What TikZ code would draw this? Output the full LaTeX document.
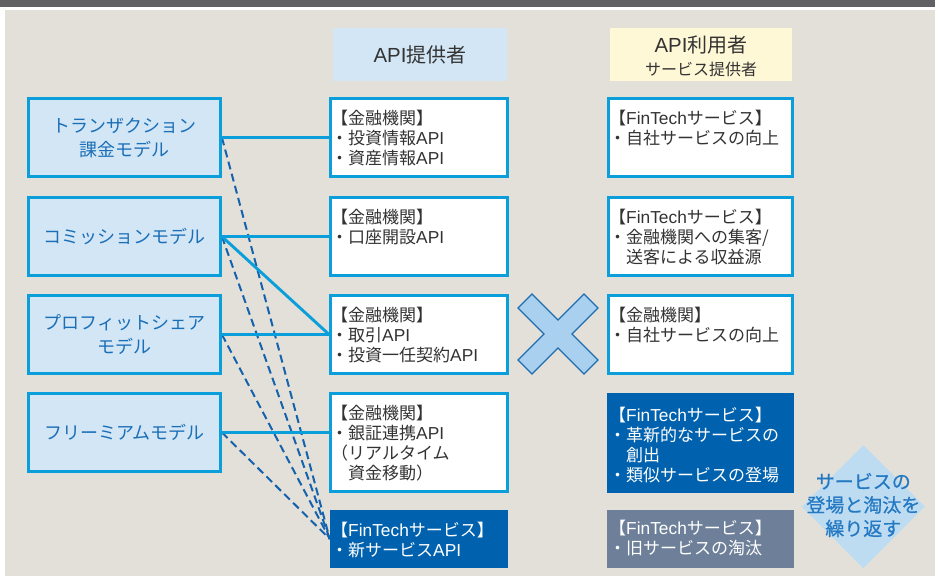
\documentclass[tikz,border=0pt]{standalone}
\usepackage{fontspec}
\setmainfont{Noto Sans CJK JP}
\newfontfamily\latf[Scale=1.02]{Liberation Sans}
\newfontfamily\boldish[FakeBold=0.6]{Noto Sans CJK JP}
\usetikzlibrary{shapes.geometric}
\definecolor{bg}{HTML}{E3E0D9}
\definecolor{topbar}{HTML}{616163}
\definecolor{cyanb}{HTML}{0A9FDA}
\definecolor{lightb}{HTML}{D2E6F6}
\definecolor{darkb}{HTML}{0062AE}
\definecolor{grayb}{HTML}{6E8099}
\definecolor{txtb}{HTML}{1B6FB7}
\definecolor{txtd}{HTML}{2479C2}
\definecolor{hdrA}{HTML}{D3E6F5}
\definecolor{hdrB}{HTML}{FEF8D6}
\definecolor{txtg}{HTML}{333333}
\definecolor{xfill}{HTML}{A9D0EE}
\definecolor{xline}{HTML}{1E6DB0}
\definecolor{dashcol}{HTML}{1462AC}
\definecolor{diam}{HTML}{BDDCF2}
\newcommand{\mystrut}{\rule{0pt}{16pt}}
\newcommand{\lat}[1]{{\latf #1}}
\begin{document}
\begin{tikzpicture}[x=1pt,y=-1pt,
  leftbox/.style={draw=cyanb, line width=2.8pt, fill=lightb, minimum width=192pt, minimum height=78pt, inner sep=0pt, align=center, text=txtb, font=\fontsize{18}{24}\selectfont},
  apibox/.style={draw=cyanb, line width=2.8pt, fill=white, minimum width=177pt, inner sep=0pt},
  svcbox/.style={draw=cyanb, line width=2.8pt, fill=white, minimum width=184pt, inner sep=0pt},
  solidbox/.style={inner sep=0pt},
  hdr/.style={inner sep=0pt, minimum height=53pt, align=center, text=txtg},
  tx/.style={anchor=north west, inner sep=0pt, align=left, font=\fontsize{17}{20}\selectfont, text=txtg},
  txw/.style={tx, text=white},
  solidc/.style={draw=cyanb, line width=2.9pt},
  dashc/.style={draw=dashcol, line width=2pt, dash pattern=on 8pt off 4.5pt}
]
\useasboundingbox (0,0) rectangle (935,576);
\fill[white] (0,0) rectangle (935,576);
\fill[topbar] (0,0) rectangle (935,7);
\fill[bg] (5,10) rectangle (935,576);

% headers
\node[hdr, fill=hdrA, minimum width=174pt, font=\fontsize{20}{24}\selectfont] (h1) at (420,54.5) {\lat{API}提供者};
\node[hdr, fill=hdrB, minimum width=182pt] (h2) at (701,54.5) {};
\node[inner sep=0pt, text=txtg, font=\fontsize{20}{24}\selectfont] (h2a) at (701,45) {\lat{API}利用者};
\node[inner sep=0pt, text=txtg, font=\fontsize{16}{20}\selectfont] (h2b) at (701,69) {サービス提供者};

% left boxes
\node[leftbox] (m1) at (124.5,137.5) {トランザクション\\課金モデル};
\node[leftbox] (m2) at (124.5,236.5) {コミッションモデル};
\node[leftbox] (m3) at (124.5,334.5) {プロフィットシェア\\モデル};
\node[leftbox] (m4) at (124.5,432.5) {フリーミアムモデル};

% middle boxes
\node[apibox, minimum height=78pt] (a1) at (419,137.5) {};
\node[apibox, minimum height=78pt] (a2) at (419,236.5) {};
\node[apibox, minimum height=78pt] (a3) at (419,334.5) {};
\node[apibox, minimum height=98pt] (a4) at (419,442.5) {};
\node[solidbox, fill=darkb, minimum width=178pt, minimum height=58pt] (a5) at (419,539) {};

% connectors
\draw[dashc] (m1.east) -- (a5.west);
\draw[dashc] (m2.east) -- (a5.west);
\draw[dashc] (m3.east) -- (a5.west);
\draw[dashc] (m4.east) -- (a5.west);
\draw[solidc] (m1.east) -- (a1.west);
\draw[solidc] (m2.east) -- (a2.west);
\draw[solidc] (m2.east) -- (a3.west);
\draw[solidc] (m3.east) -- (a3.west);
\draw[solidc] (m4.east) -- (m4.east -| a4.west);

% redraw boxes on top of line ends
\node[leftbox] at (m1) {トランザクション\\課金モデル};
\node[leftbox] at (m2) {コミッションモデル};
\node[leftbox] at (m3) {プロフィットシェア\\モデル};
\node[leftbox] at (m4) {フリーミアムモデル};
\node[apibox, minimum height=78pt] at (a1) {};
\node[apibox, minimum height=78pt] at (a2) {};
\node[apibox, minimum height=78pt] at (a3) {};
\node[apibox, minimum height=98pt] at (a4) {};
\node[solidbox, fill=darkb, minimum width=178pt, minimum height=58pt] at (a5) {};

\node[tx] (ta1) at (331,108.5) {\mystrut【金融機関】\\・投資情報\lat{API}\\・資産情報\lat{API}};
\node[tx] (ta2) at (331,207.5) {\mystrut【金融機関】\\・口座開設\lat{API}};
\node[tx] (ta3) at (331,305.5) {\mystrut【金融機関】\\・取引\lat{API}\\・投資一任契約\lat{API}};
\node[tx] (ta4) at (331,403.5) {\mystrut【金融機関】\\・銀証連携\lat{API}\\（リアルタイム\\\phantom{・}資金移動）};
\node[txw] (ta5) at (331,520.5) {\mystrut【\lat{FinTech}サービス】\\・新サービス\lat{API}};

% X cross
\draw[draw=xline, fill=xfill, line width=1.3pt, line join=miter]
 (532,294) -- (558,320) -- (584,294) -- (598,308) -- (572,334) -- (598,360)
 -- (584,374) -- (558,348) -- (532,374) -- (518,360) -- (544,334) -- (518,308) -- cycle;

% right boxes
\node[svcbox, minimum height=78pt] (b1) at (700.5,137.5) {};
\node[svcbox, minimum height=78pt] (b2) at (700.5,236.5) {};
\node[svcbox, minimum height=78pt] (b3) at (700.5,334.5) {};
\node[solidbox, fill=darkb, minimum width=187pt, minimum height=100pt] (b4) at (700.5,443) {};
\node[solidbox, fill=grayb, minimum width=187pt, minimum height=58pt] (b5) at (700.5,539) {};

\node[tx] (tb1) at (609,108.5) {\mystrut【\lat{FinTech}サービス】\\・自社サービスの向上};
\node[tx] (tb2) at (609,207.5) {\mystrut【\lat{FinTech}サービス】\\・金融機関への集客/\\\phantom{・}送客による収益源};
\node[tx] (tb3) at (609,305.5) {\mystrut【金融機関】\\・自社サービスの向上};
\node[txw] (tb4) at (609,405.5) {\mystrut【\lat{FinTech}サービス】\\・革新的なサービスの\\\phantom{・}創出\\・類似サービスの登場};
\node[txw] (tb5) at (609,518.5) {\mystrut【\lat{FinTech}サービス】\\・旧サービスの淘汰};

% diamond
\node[diamond, fill=diam, inner sep=0pt, minimum width=123pt, minimum height=123pt] (dm) at (863.3,506.7) {};
\node[inner sep=0pt, align=center, text=txtd, font=\boldish\fontsize{19}{23.5}\selectfont] (dt) at (863.3,505) {サービスの\\登場と淘汰を\\繰り返す};
\end{tikzpicture}
\end{document}
